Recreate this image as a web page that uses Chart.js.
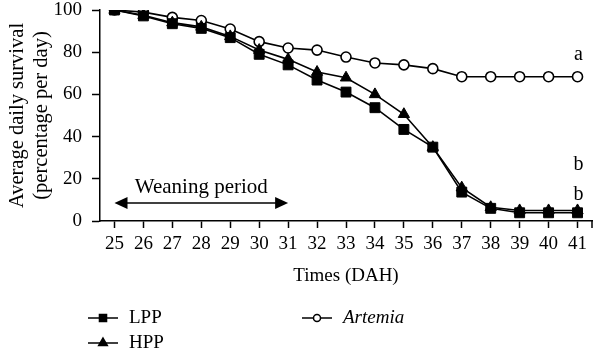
<!DOCTYPE html>
<html>
<head>
<meta charset="utf-8">
<script src="https://cdn.jsdelivr.net/npm/chart.js@4.4.1/dist/chart.umd.min.js"></script>
<style>
  html, body { margin: 0; padding: 0; background: #fff; }
  #wrap { width: 600px; height: 351px; position: relative; }
</style>
</head>
<body>
<div id="wrap"><canvas id="survivalChart" width="600" height="351"></canvas></div>
<script>
// Days after hatching
const days = ['25', '26', '27', '28', '29', '30', '31', '32', '33', '34', '35', '36', '37', '38', '39', '40', '41'];

// survival (% per day)
const lppValues = [100, 97.2, 93.5, 91.3, 86.9, 79, 74, 66.8, 61.1, 53.7, 43.4, 35, 13.7, 6, 3.9, 3.9, 3.9];
const hppValues = [100, 97.5, 94, 92, 87.5, 81, 76.6, 70.6, 67.9, 60, 50.6, 35, 15.8, 6.5, 5, 5, 5];
const artemiaValues = [100, 99, 96.5, 95, 91, 85, 82, 81, 77.7, 74.9, 74, 72.2, 68.4, 68.4, 68.4, 68.4, 68.4];

const yTicks = [0, 20, 40, 60, 80, 100];

// significance letters next to the last day
const sigLetters = ['a', 'b', 'b'];
const sigValues = [78.7, 26.5, 12.3];

// weaning period (from day, to day, arrow level)
const weaning = { from: '25', to: '31', level: 8.5, label: 'Weaning period' };

const FONT = "'Liberation Serif', 'DejaVu Serif', serif";
Chart.defaults.font.family = FONT;
Chart.defaults.font.size = 19;
Chart.defaults.color = '#000';

function arrowHead(ctx, x, y, dir) {
    ctx.beginPath();
    ctx.moveTo(x, y);
    ctx.lineTo(x - dir * 13, y - 6);
    ctx.lineTo(x - dir * 13, y + 6);
    ctx.closePath();
    ctx.fill();
}

const extrasPlugin = {
    id: 'extras',
    afterDraw(chart) {
        const ctx = chart.ctx;
        const xs = chart.scales.x;
        const ys = chart.scales.y;
        ctx.save();
        ctx.fillStyle = '#000';
        ctx.strokeStyle = '#000';

        // closing tick at the right end of the x axis
        ctx.lineWidth = 1.5;
        ctx.beginPath();
        ctx.moveTo(xs.right, xs.top);
        ctx.lineTo(xs.right, xs.top + 7);
        ctx.stroke();

        // weaning arrow
        const x1 = xs.getPixelForValue(days.indexOf(weaning.from));
        const x2 = xs.getPixelForValue(days.indexOf(weaning.to));
        const ya = ys.getPixelForValue(weaning.level);
        ctx.lineWidth = 1.5;
        ctx.beginPath();
        ctx.moveTo(x1 + 8, ya);
        ctx.lineTo(x2 - 8, ya);
        ctx.stroke();
        arrowHead(ctx, x1, ya, -1);
        arrowHead(ctx, x2, ya, 1);
        ctx.font = '21px ' + FONT;
        ctx.textAlign = 'center';
        ctx.textBaseline = 'middle';
        ctx.fillText(weaning.label, (x1 + x2) / 2, ya - 16);

        // letters
        ctx.font = '20px ' + FONT;
        const xl = xs.getPixelForValue(days.length - 1) + 1;
        sigLetters.forEach((s, i) => {
            ctx.fillText(s, xl, ys.getPixelForValue(sigValues[i]));
        });

        // legend
        const items = [
            { ds: 0, x: 88, y: 318, italic: false },
            { ds: 1, x: 88, y: 343, italic: false },
            { ds: 2, x: 302, y: 318, italic: true }
        ];
        items.forEach(it => {
            const d = chart.data.datasets[it.ds];
            ctx.lineWidth = 1.5;
            ctx.strokeStyle = '#000';
            ctx.beginPath();
            ctx.moveTo(it.x, it.y);
            ctx.lineTo(it.x + 30, it.y);
            ctx.stroke();
            ctx.fillStyle = d.backgroundColor;
            Chart.helpers.drawPoint(ctx, {
                pointStyle: d.pointStyle,
                radius: d.pointStyle === 'circle' ? 3.5 : 5,
                borderWidth: 1.3
            }, it.x + 15, it.y);
            ctx.fillStyle = '#000';
            ctx.font = (it.italic ? 'italic ' : '') + '19px ' + FONT;
            ctx.textAlign = 'left';
            ctx.fillText(d.label, it.x + 41, it.y);
        });
        ctx.restore();
    }
};

new Chart(document.getElementById('survivalChart'), {
    type: 'line',
    data: {
        labels: days,
        datasets: [
            {
                label: 'LPP', data: lppValues, pointStyle: 'rect',
                borderColor: '#000', backgroundColor: '#000', borderWidth: 1.6,
                pointRadius: 7, pointBorderWidth: 1, order: 1
            },
            {
                label: 'HPP', data: hppValues, pointStyle: 'triangle',
                borderColor: '#000', backgroundColor: '#000', borderWidth: 1.6,
                pointRadius: 6.5, pointBorderWidth: 1, order: 2
            },
            {
                label: 'Artemia', data: artemiaValues, pointStyle: 'circle',
                borderColor: '#000', backgroundColor: '#fff', borderWidth: 1.6,
                pointRadius: 5, pointBorderWidth: 1.6, order: 3
            }
        ]
    },
    options: {
        responsive: false,
        animation: false,
        layout: { padding: { left: 0, right: 1.4, top: 10, bottom: 60 } },
        plugins: { legend: { display: false }, tooltip: { enabled: false } },
        scales: {
            x: {
                offset: true,
                grid: { offset: false, drawOnChartArea: false, drawTicks: true, tickLength: 7, tickWidth: 1.5, tickColor: '#000' },
                border: { color: '#000', width: 1.5 },
                ticks: { padding: 5, maxRotation: 0, autoSkip: false, font: { size: 19 } },
                title: { display: true, text: 'Times (DAH)', font: { size: 19 }, padding: { top: 0, bottom: 4 } },
                afterFit(scale) {
                    scale.height = 70;
                    scale.paddingLeft = 0;
                    scale.paddingRight = 0;
                }
            },
            y: {
                min: 0, max: 100,
                afterBuildTicks(scale) { scale.ticks = yTicks.map(v => ({ value: v })); },
                grid: { drawOnChartArea: false, drawTicks: true, tickLength: 8, tickWidth: 1.5, tickColor: '#000' },
                border: { color: '#000', width: 1.5 },
                ticks: { padding: 10, font: { size: 19 } },
                title: {
                    display: true,
                    text: ['Average daily survival', '(percentage per day)'],
                    font: { size: 20.5 },
                    padding: { top: 5, bottom: 0 }
                },
                afterFit(scale) {
                    scale.width = 100;
                    scale.paddingTop = 0;
                    scale.paddingBottom = 0;
                }
            }
        }
    },
    plugins: [extrasPlugin]
});
</script>
</body>
</html>
